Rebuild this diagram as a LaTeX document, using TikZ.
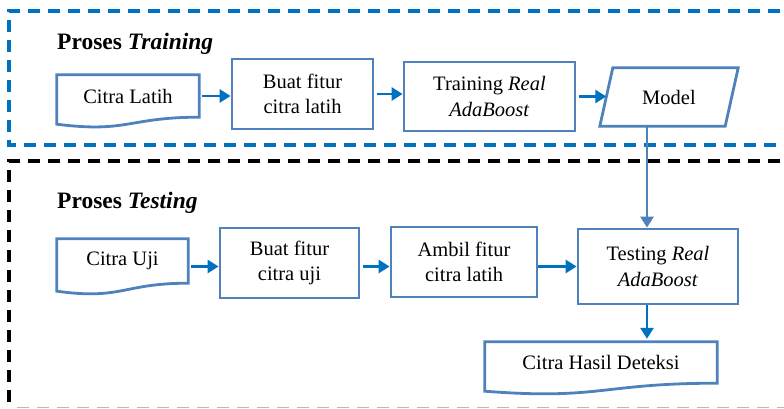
\documentclass[tikz,border=0pt]{standalone}
\usepackage{fontspec}
\setmainfont{Liberation Serif}
\usetikzlibrary{arrows.meta}
\definecolor{boxblue}{RGB}{79,129,189}
\definecolor{arrowblue}{RGB}{0,112,192}
\begin{document}
\begin{tikzpicture}[x=1pt,y=-1pt,
  txt/.style={font=\fontsize{20.5}{25.5}\selectfont, align=center, inner sep=0pt},
  procbox/.style={txt, draw=boxblue, line width=2.8pt},
  docnode/.style={txt},
  outline/.style={draw=boxblue, line width=2.8pt, line join=miter},
  flow/.style={draw=arrowblue, line width=2.8pt, shorten <=2.5pt,
    -{Triangle[length=11pt,width=13pt]}},
  feed/.style={flow, draw=boxblue},
  title/.style={font=\fontsize{23.5}{28}\selectfont\bfseries, anchor=base west, inner sep=0pt},
  trainframe/.style={draw=arrowblue, line width=3.2pt, dash pattern=on 12pt off 8pt},
  testframe/.style={draw=black, line width=3.2pt, dash pattern=on 12pt off 8pt},
  edgeframe/.style={draw=black!28, line width=1.8pt, dash pattern=on 12pt off 8pt}]
\useasboundingbox (0,0) rectangle (784,409);

% dashed frames of the two stages
\draw[trainframe] (800,11) -- (9,11) -- (9,145) -- (800,145);
\draw[testframe] (800,161) -- (9,161) -- (9,407);
\draw[edgeframe] (17,407.5) -- (800,407.5);

% titles
\node[title] (ttrain) at (57,50) {Proses \textit{Training}};
\node[title] (ttest) at (57,208) {Proses \textit{Testing}};

% training row
\node[docnode, minimum width=142pt, minimum height=42pt] (cl) at (128,96) {Citra Latih};
\draw[outline] (cl.south east) -- (cl.north east) -- (cl.north west)
  -- ([yshift=-7pt]cl.south west)
  .. controls ([yshift=-16pt]cl.south) and (cl.south) .. (cl.south east) -- cycle;
\node[procbox, minimum width=141pt, minimum height=70pt] (bfl) at (302.5,94) {Buat fitur\\citra latih};
\node[procbox, minimum width=171pt, minimum height=69pt] (tra) at (489.5,96.5) {Training \textit{Real}\\\textit{AdaBoost}};
\node[txt, minimum width=138pt, minimum height=58pt] (mdl) at (669,97) {Model};
\draw[outline] ([xshift=13pt]mdl.north west) -- (mdl.north east)
  -- ([xshift=-13pt]mdl.south east) -- (mdl.south west) -- cycle;

% testing row
\node[docnode, minimum width=131pt, minimum height=44pt] (cu) at (122.5,261) {Citra Uji};
\draw[outline] (cu.south east) -- (cu.north east) -- (cu.north west)
  -- ([yshift=-8pt]cu.south west)
  .. controls ([yshift=-17pt]cu.south) and (cu.south) .. (cu.south east) -- cycle;
\node[procbox, minimum width=139pt, minimum height=70pt] (bfu) at (289.5,263) {Buat fitur\\citra uji};
\node[procbox, minimum width=146pt, minimum height=70pt] (amb) at (464,262) {Ambil fitur\\citra latih};
\node[procbox, minimum width=160pt, minimum height=75pt] (tst) at (658,266.5) {Testing \textit{Real}\\\textit{AdaBoost}};
\node[docnode, minimum width=232pt, minimum height=41pt] (chd) at (601,362.5) {Citra Hasil Deteksi};
\draw[outline] (chd.south east) -- (chd.north east) -- (chd.north west)
  -- ([yshift=-8pt]chd.south west)
  .. controls ([yshift=-17pt]chd.south) and (chd.south) .. (chd.south east) -- cycle;

% connectors
\coordinate (tstin) at ([xshift=-11pt]tst.north);
\coordinate (tstout) at ([xshift=-11pt]tst.south);
\draw[flow] (cl.east) -- (cl.east -| bfl.west);
\draw[flow] (bfl.east) -- (bfl.east -| tra.west);
\draw[flow] (tra.east) -- ([xshift=6.5pt]tra.east -| mdl.west);
\draw[feed, shorten <=0pt] (tstin |- mdl.south) -- (tstin);
\draw[flow] (cu.east |- tst.west) -- (bfu.west |- tst.west);
\draw[flow] (bfu.east |- tst.west) -- (amb.west |- tst.west);
\draw[flow, shorten <=0pt] (amb.east |- tst.west) -- (tst.west);
\draw[flow, shorten <=0pt] (tstout) -- ([yshift=3pt]tstout |- chd.north);
\end{tikzpicture}
\end{document}
